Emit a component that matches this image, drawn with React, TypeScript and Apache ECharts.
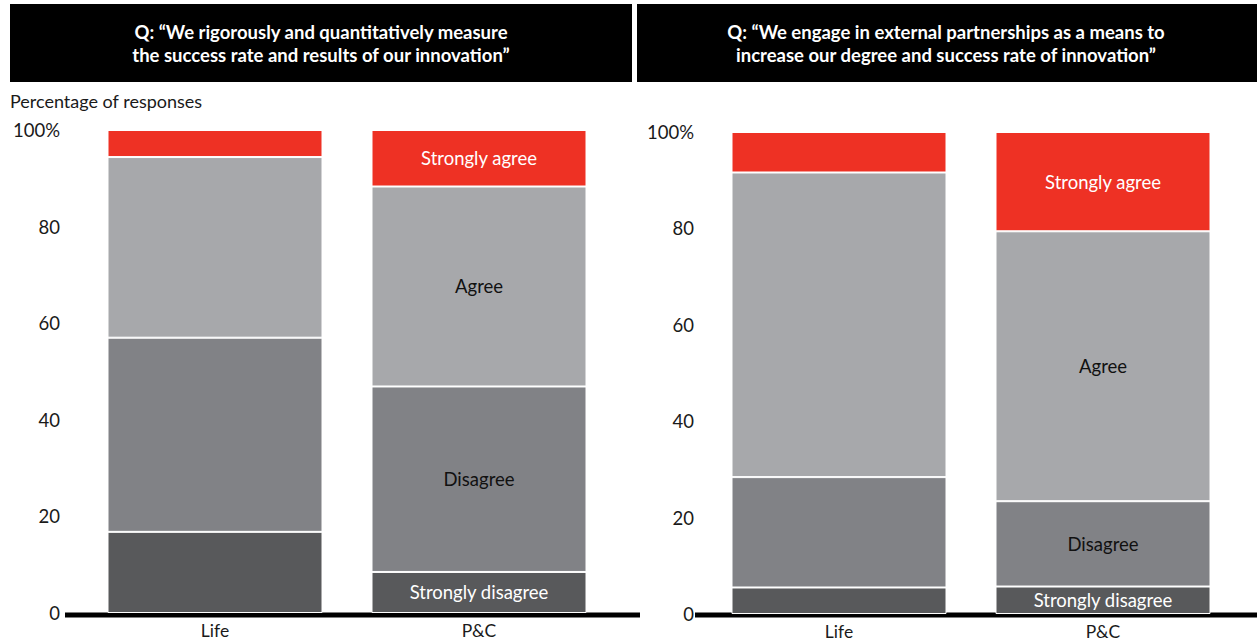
import React, { useEffect, useRef } from "react";
import * as echarts from "echarts";

const categories = ["Life", "P&C"];
const segmentNames = ["Strongly disagree", "Disagree", "Agree", "Strongly agree"];
const segmentColors = ["#58595B", "#818286", "#A7A8AB", "#EE3124"];
const labelColors = ["#ffffff", "#111111", "#111111", "#ffffff"];

// Left panel: "We rigorously and quantitatively measure..."
const measureStronglyDisagree = [16.8, 8.5];
const measureDisagree = [40.2, 38.4];
const measureAgree = [37.4, 41.4];
const measureStronglyAgree = [5.6, 11.7];

// Right panel: "We engage in external partnerships..."
const partnerStronglyDisagree = [5.5, 5.7];
const partnerDisagree = [22.9, 17.7];
const partnerAgree = [63.2, 56.0];
const partnerStronglyAgree = [8.4, 20.6];

const yMin = 0;
const yMax = 100;
const yInterval = 20;

const leftTitle = ["Q: \u201cWe rigorously and quantitatively measure", "the success rate and results of our innovation\u201d"];
const rightTitle = ["Q: \u201cWe engage in external partnerships as a means to", "increase our degree and success rate of innovation\u201d"];
const yAxisTitle = "Percentage of responses";

const FONT = "Lato";

export default function App() {
  const ref = useRef<HTMLDivElement>(null);

  useEffect(() => {
    if (!ref.current) return;
    const chart = echarts.init(ref.current, null, { renderer: "svg" });

    const panels = [
      [measureStronglyDisagree, measureDisagree, measureAgree, measureStronglyAgree],
      [partnerStronglyDisagree, partnerDisagree, partnerAgree, partnerStronglyAgree],
    ];

    const series: any[] = [];
    panels.forEach((panel, p) => {
      panel.forEach((vals, s) => {
        series.push({
          type: "bar",
          name: segmentNames[s],
          stack: "panel" + p,
          xAxisIndex: p,
          yAxisIndex: p,
          barWidth: 215,
          itemStyle: { color: segmentColors[s], borderColor: "#ffffff", borderWidth: 1 },
          data: vals.map((v, i) => ({
            value: v,
            label: {
              show: i === 1,
              position: "inside",
              formatter: segmentNames[s],
              color: labelColors[s],
              fontFamily: FONT,
              fontSize: 18.5,
            },
          })),
        });
      });
    });

    const yAxisBase = (margin: number) => ({
      type: "value",
      min: yMin,
      max: yMax,
      interval: yInterval,
      axisLine: { show: false },
      axisTick: { show: false },
      splitLine: { show: false },
      axisLabel: {
        margin,
        color: "#1a1a1a",
        fontFamily: FONT,
        fontSize: 18.5,
        formatter: (v: number) => (v === 100 ? "100%" : String(v)),
      },
    });

    const xAxisBase = {
      type: "category",
      data: categories,
      axisLine: { show: false },
      axisTick: { show: false },
      axisLabel: { color: "#1a1a1a", fontFamily: FONT, fontSize: 17.5, margin: 8 },
    };

    const headerText = (lines: string[], cx: number) => ({
      type: "text",
      x: cx,
      y: 43,
      style: {
        text: lines.join("\n"),
        fill: "#ffffff",
        font: `bold 18.5px ${FONT}`,
        textAlign: "center",
        textVerticalAlign: "middle",
        lineHeight: 23,
      },
    });

    chart.setOption({
      animation: false,
      backgroundColor: "#ffffff",
      grid: [
        { left: 83, width: 528, top: 130, height: 483 },
        { left: 707, width: 528, top: 132, height: 482 },
      ],
      xAxis: [
        { ...xAxisBase, gridIndex: 0 },
        { ...xAxisBase, gridIndex: 1 },
      ],
      yAxis: [
        { ...yAxisBase(23), gridIndex: 0 },
        { ...yAxisBase(13), gridIndex: 1 },
      ],
      series,
      graphic: [
        { type: "rect", shape: { x: 10, y: 4, width: 622, height: 78 }, style: { fill: "#000000" } },
        { type: "rect", shape: { x: 637, y: 4, width: 620, height: 78 }, style: { fill: "#000000" } },
        headerText(leftTitle, 321),
        headerText(rightTitle, 946),
        {
          type: "text",
          x: 10,
          y: 101,
          style: { text: yAxisTitle, fill: "#1a1a1a", font: `18px ${FONT}`, textVerticalAlign: "middle" },
        },
        { type: "line", shape: { x1: 65, y1: 615, x2: 640, y2: 615 }, style: { stroke: "#000000", lineWidth: 5 } },
        { type: "line", shape: { x1: 695, y1: 615, x2: 1257, y2: 615 }, style: { stroke: "#000000", lineWidth: 5 } },
      ],
    });

    return () => chart.dispose();
  }, []);

  return (
    <div
      ref={ref}
      style={{ position: "fixed", left: 0, top: 0, width: 1257, height: 642, background: "#fff" }}
    />
  );
}
